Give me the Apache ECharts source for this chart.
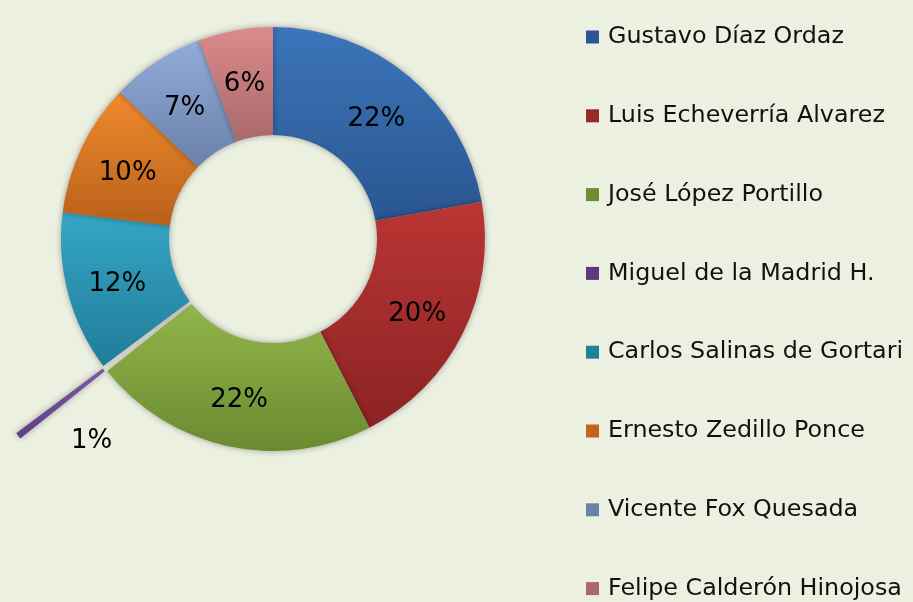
<!DOCTYPE html>
<html>
<head>
<meta charset="utf-8">
<script src="https://cdn.jsdelivr.net/npm/echarts@6/dist/echarts.min.js"></script>
<style>
html,body{margin:0;padding:0;background:#ECF0E1;}
#chart{width:913px;height:602px;}
</style>
</head>
<body>
<div id="chart"></div>
<script>
// Data (share of the ring, in %)
const categories = ["Gustavo Díaz Ordaz", "Luis Echeverría Alvarez", "José López Portillo", "Miguel de la Madrid H.", "Carlos Salinas de Gortari", "Ernesto Zedillo Ponce", "Vicente Fox Quesada", "Felipe Calderón Hinojosa"];
const values = [22.3, 20.4, 21.9, 0.5, 12.3, 10.2, 7.2, 5.7];
const explodedIndex = 3;

const topColors = ["#3B75BA", "#BA3634", "#92B64C", "#7A58A6", "#35A6C6", "#F08A2C", "#93ACDA", "#DC8A8B"];
const bottomColors = ["#2A5690", "#8C2224", "#6A8A30", "#5E3F86", "#207C98", "#B8601A", "#6A80A8", "#A8696A"];
const legendColors = ["#2C5592", "#962A29", "#6F8E34", "#5A3A7B", "#22809B", "#C2641E", "#6B81A8", "#AE6768"];

const chart = echarts.init(document.getElementById('chart'), null, {renderer: 'canvas'});

const data = categories.map((name, i) => ({
  name: name,
  value: values[i],
  selected: i === explodedIndex,
  itemStyle: {
    color: new echarts.graphic.LinearGradient(0, 0, 0, 1, [
      {offset: 0, color: topColors[i]},
      {offset: 1, color: bottomColors[i]}
    ])
  }
}));

chart.setOption({
  backgroundColor: '#ECF0E1',
  animation: false,
  color: legendColors,
  legend: {
    orient: 'vertical',
    left: 586,
    top: 25,
    padding: 0,
    itemWidth: 13,
    itemHeight: 13,
    itemGap: 54.8,
    icon: 'rect',
    selectedMode: false,
    data: categories.map((n, i) => ({name: n, itemStyle: {color: legendColors[i]}})),
    textStyle: {
      fontFamily: 'DejaVu Sans',
      fontSize: 23.8,
      color: '#111',
      lineHeight: 24,
      padding: [0, 0, 0, 4]
    }
  },
  series: [{
    type: 'pie',
    center: [273, 239],
    radius: [104, 212],
    startAngle: 90,
    clockwise: true,
    selectedMode: 'single',
    selectedOffset: 110,
    avoidLabelOverlap: false,
    label: {
      show: true,
      position: 'inside',
      formatter: '{d}%',
      fontFamily: 'DejaVu Sans',
      fontSize: 26,
      color: '#000'
    },
    labelLayout: function (params) {
      if (params.dataIndex === explodedIndex) {
        return {dx: 33, dy: 37};
      }
      return {dy: 4};
    },
    labelLine: {show: false},
    percentPrecision: 0,
    itemStyle: {
      borderWidth: 0,
      shadowBlur: 6,
      shadowColor: 'rgba(0,0,0,0.35)'
    },
    emphasis: {disabled: true},
    data: data
  }]
});
</script>
</body>
</html>
